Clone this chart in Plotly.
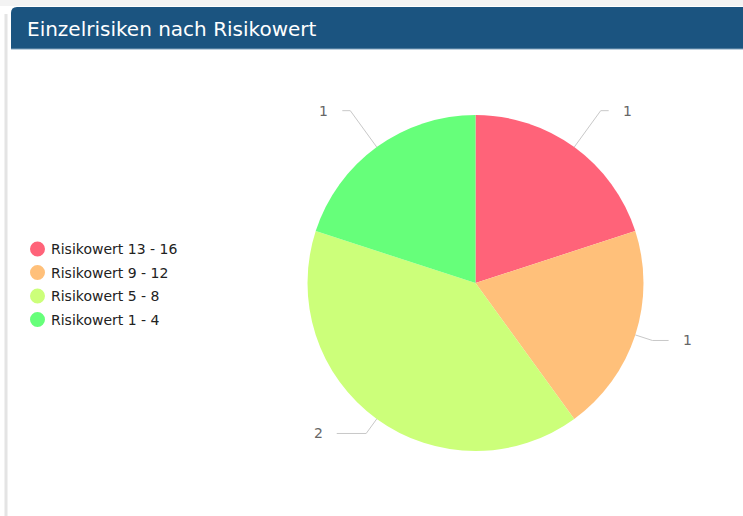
import math
import plotly.graph_objects as go

# ---- data ----
categories = ["Risikowert 13 - 16", "Risikowert 9 - 12", "Risikowert 5 - 8", "Risikowert 1 - 4"]
values = [1, 1, 2, 1]
colors = ["#FF6379", "#FFC07A", "#CCFF7A", "#66FF7A"]
title_text = "Einzelrisiken nach Risikowert"

W, H = 743, 516
FONT = "DejaVu Sans, sans-serif"

def px(x):
    return x / W

def py(y):
    return 1 - y / H

# pie geometry (pixels)
cx, cy, r = 475.5, 283.0, 168.0
label_circle = r + 45

fig = go.Figure()
fig.add_trace(go.Pie(
    labels=categories,
    values=values,
    marker=dict(colors=colors, line=dict(width=0)),
    sort=False,
    direction="clockwise",
    rotation=0,
    textinfo="none",
    hoverinfo="label+value",
    showlegend=False,
    domain=dict(x=[px(cx - r), px(cx + r)], y=[py(cy + r), py(cy - r)]),
))

shapes = []
annotations = []

# panel background / borders
shapes.append(dict(type="rect", xref="paper", yref="paper", x0=0, x1=1, y0=py(6), y1=1,
                   fillcolor="#f3f3f3", line=dict(width=0), layer="below"))
shapes.append(dict(type="line", xref="paper", yref="paper", x0=px(6), x1=px(6), y0=py(516), y1=py(14),
                   line=dict(color="#e4e4e4", width=3)))
# header bar
shapes.append(dict(type="path", xref="paper", yref="paper",
                   path=(f"M {px(11)},{py(49)} L {px(11)},{py(13)} "
                         f"Q {px(11)},{py(7)} {px(17)},{py(7)} L {px(743)},{py(7)} L {px(743)},{py(49)} Z"),
                   fillcolor="#1B5480", line=dict(width=0)))
shapes.append(dict(type="line", xref="paper", yref="paper", x0=px(11), x1=1, y0=py(49), y1=py(49),
                   line=dict(color="#7fa0bb", width=1)))
annotations.append(dict(text=title_text, xref="paper", yref="paper", x=px(25), y=py(29),
                        xanchor="left", yanchor="middle", showarrow=False,
                        font=dict(family=FONT, size=20, color="white")))

# data labels with connectors (computed from the values)
total = sum(values)
cum = 0
for v in values:
    mid = (cum + v / 2) / total * 2 * math.pi
    cum += v
    sx, cs = math.sin(mid), math.cos(mid)
    side = 1 if sx >= 0 else -1
    ex, ey = cx + r * sx, cy - r * cs
    if cs > 0:
        bx, by = cx + label_circle * sx, cy - label_circle * cs
        hx = bx + side * 8
        tx = hx + side * 12
    else:
        bx, by = cx + (r + 18) * sx, cy - (r + 18) * cs
        tx = cx + side * math.sqrt(label_circle ** 2 - (by - cy) ** 2)
        hx = tx - side * 12
    shapes.append(dict(type="path", xref="paper", yref="paper",
                       path=f"M {px(ex)},{py(ey)} L {px(bx)},{py(by)} L {px(hx)},{py(by)}",
                       line=dict(color="#c8c8c8", width=1)))
    annotations.append(dict(text=str(v), xref="paper", yref="paper", x=px(tx), y=py(by),
                            xanchor="left" if side > 0 else "right", yanchor="middle", showarrow=False,
                            font=dict(family=FONT, size=14, color="#666666")))

# legend (circles + text)
leg_x, leg_y0, leg_dy = 37.5, 249, 23.5
for i, (cat, col) in enumerate(zip(categories, colors)):
    yy = leg_y0 + i * leg_dy
    shapes.append(dict(type="circle", xref="paper", yref="paper",
                       x0=px(leg_x - 7.5), x1=px(leg_x + 7.5), y0=py(yy + 7.5), y1=py(yy - 7.5),
                       fillcolor=col, line=dict(width=0)))
    annotations.append(dict(text=cat, xref="paper", yref="paper", x=px(49), y=py(yy),
                            xanchor="left", yanchor="middle", showarrow=False,
                            font=dict(family=FONT, size=14, color="#222222")))

fig.update_layout(
    width=W, height=H,
    margin=dict(l=0, r=0, t=0, b=0),
    paper_bgcolor="white", plot_bgcolor="white",
    shapes=shapes, annotations=annotations,
    showlegend=False,
)

fig.write_html("out.html")
